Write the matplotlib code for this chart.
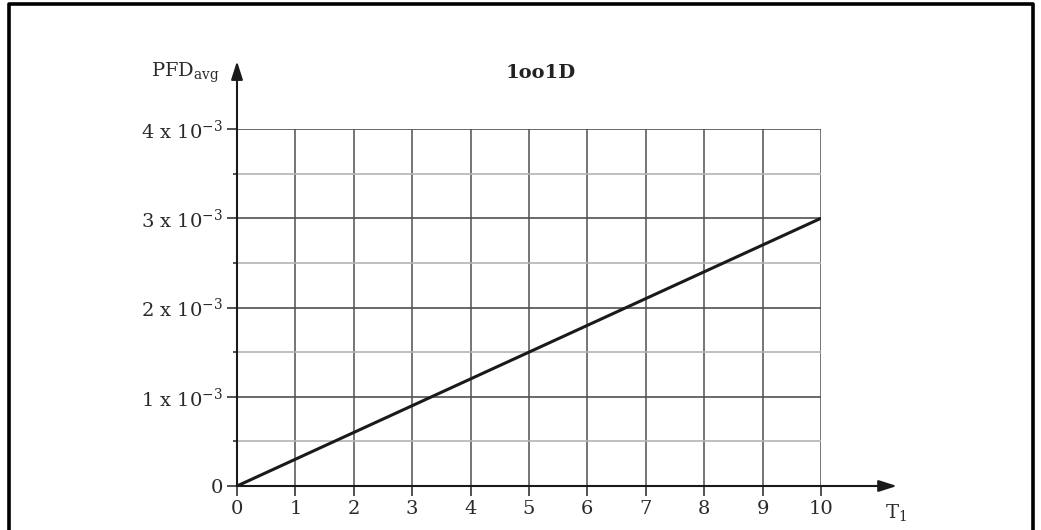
import numpy as np
import matplotlib.pyplot as plt

# proof test interval T1 (years) vs. average probability of failure on demand
t1 = [0, 10]
pfd_avg = [0.0, 3.0e-3]

x_ticks = list(range(0, 11))
y_major = [0.0, 1e-3, 2e-3, 3e-3, 4e-3]
y_minor = [0.5e-3, 1.5e-3, 2.5e-3, 3.5e-3]
y_labels = ['0'] + ['%d x 10$^{\\mathregular{-3}}$' % k for k in range(1, 5)]

plt.rcParams['font.family'] = 'DejaVu Serif'
plt.rcParams['mathtext.fontset'] = 'dejavuserif'
plt.rcParams['axes.unicode_minus'] = False

fig = plt.figure(figsize=(10.41, 5.30), dpi=100)
ax = fig.add_axes([237 / 1041, 44 / 530, 584 / 1041, 357 / 530])

# outer frame, open at the bottom
fig.add_artist(plt.Line2D([8.5 / 1041, 8.5 / 1041, 1033 / 1041, 1033 / 1041],
                          [0, 1 - 4 / 530, 1 - 4 / 530, 0],
                          transform=fig.transFigure, color='black', lw=2.6))

ax.set_xlim(0, 10)
ax.set_ylim(0, 4e-3)
for s in ax.spines.values():
    s.set_visible(False)

for x in x_ticks[1:]:
    ax.plot([x, x], [0, 4e-3], color='#5e5e5e', lw=1.2, zorder=1)
for y in y_major[1:]:
    ax.plot([0, 10], [y, y], color='#505050', lw=1.2, zorder=1)
for y in y_minor:
    ax.plot([0, 10], [y, y], color='#b4b4b4', lw=1.2, zorder=1)

ax.plot(t1, pfd_avg, color='#1a1a1a', lw=2.2, zorder=3, solid_capstyle='butt')

# axes with arrow heads
ax.annotate('', xy=(11.3, 0), xytext=(0, 0), annotation_clip=False,
            arrowprops=dict(arrowstyle='-|>,head_length=1.1,head_width=0.35',
                            color='#1a1a1a', lw=1.5, shrinkA=0, shrinkB=0))
ax.annotate('', xy=(0, 4.76e-3), xytext=(0, 0), annotation_clip=False,
            arrowprops=dict(arrowstyle='-|>,head_length=1.1,head_width=0.35',
                            color='#1a1a1a', lw=1.5, shrinkA=0, shrinkB=0))

ax.set_xticks(x_ticks)
ax.set_xticklabels([str(x) for x in x_ticks])
ax.set_yticks(y_major)
ax.set_yticklabels(y_labels)
ax.set_yticks(y_minor, minor=True)
ax.tick_params(axis='both', which='major', length=7, width=1.2, color='#333333',
               labelsize=14, labelcolor='#2a2a2a', pad=3)
ax.tick_params(axis='y', which='minor', length=3, width=1.2, color='#333333')
ax.tick_params(axis='x', which='minor', length=0)

ax.text(-0.3, 4.63e-3, 'PFD$_{\\mathregular{avg}}$', ha='right', va='center',
        fontsize=14, color='#2a2a2a')
ax.text(11.1, -0.30e-3, 'T$_{\\mathregular{1}}$', ha='left', va='center',
        fontsize=14, color='#2a2a2a')
ax.text(5.2, 4.63e-3, '1oo1D', ha='center', va='center', fontsize=14,
        fontweight='bold', color='#222222')

fig.savefig('out.png', dpi=100)
